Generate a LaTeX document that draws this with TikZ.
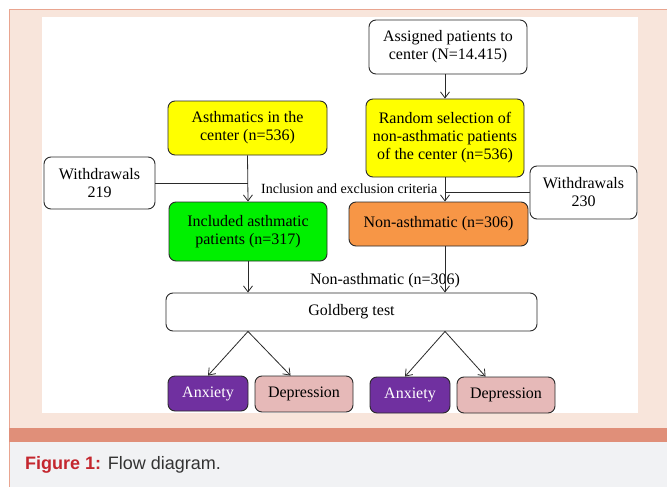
\documentclass[tikz,border=0pt]{standalone}
\usepackage{fontspec}
\setmainfont{Liberation Serif}
\newfontfamily\capfont{Liberation Sans}
\usetikzlibrary{arrows.meta,positioning,calc}
\definecolor{peach}{HTML}{F8E5DB}
\definecolor{peachline}{HTML}{E9A590}
\definecolor{band}{HTML}{E08F79}
\definecolor{capgrey}{HTML}{F1F2F4}
\definecolor{capred}{HTML}{C4262E}
\definecolor{captext}{HTML}{333333}
\definecolor{boxyellow}{HTML}{FFFF00}
\definecolor{boxgreen}{HTML}{00F000}
\definecolor{boxorange}{HTML}{F79646}
\definecolor{boxpurple}{HTML}{7030A0}
\definecolor{boxpink}{HTML}{E6B9B8}
\definecolor{linec}{HTML}{2A2A2A}
\begin{document}
\begin{tikzpicture}[x=1pt,y=-1pt,
  box/.style={draw=linec,line width=0.9pt,rounded corners=7pt,align=center,inner sep=0pt,
    font=\fontsize{16}{18}\selectfont},
  conn/.style={draw=linec,line width=0.8pt},
  arr/.style={conn,-{Straight Barb[length=6pt,width=9pt]}},
  lbl/.style={inner sep=0pt,font=\fontsize{16}{18}\selectfont}
]
\useasboundingbox (0,0) rectangle (667,487);
% background frame
\fill[white] (0,0) rectangle (667,487);
\fill[peach] (9,10) rectangle (667,428);
\draw[peachline,line width=1pt] (9,487) -- (9,10) -- (667,10);
\fill[band] (9,428) rectangle (667,442);
\fill[capgrey] (9.5,442) rectangle (667,487);
\fill[white] (42,17) rectangle (638,413);
% nodes
\node[box,fill=white,minimum width=158pt,minimum height=54pt] (assign) at (448,47) {Assigned patients to\\center (N=14.415)};
\node[box,fill=boxyellow,minimum width=158pt,minimum height=78pt] (random) at (445,138) {Random selection of\\non-asthmatic patients\\of the center (n=536)};
\node[box,fill=white,minimum width=107pt,minimum height=53pt] (wd2) at (583.5,192.5) {Withdrawals\\230};
\node[box,fill=boxorange,minimum width=179pt,minimum height=44pt] (nonas) at (438.5,224) {Non-asthmatic (n=306)};
\node[box,fill=boxyellow,minimum width=159pt,minimum height=54pt] (asth) at (247.5,128) {Asthmatics in the\\center (n=536)};
\node[box,fill=white,minimum width=111pt,minimum height=52pt] (wd1) at (99.5,183) {Withdrawals\\219};
\node[box,fill=boxgreen,minimum width=158pt,minimum height=59pt] (incl) at (248,231.5) {Included asthmatic\\patients (n=317)};
\node[box,fill=white,minimum width=371pt,minimum height=38pt] (gold) at (351.5,312) {Goldberg test};
\node[box,fill=boxpurple,text=white,minimum width=80pt,minimum height=35pt] (anx1) at (208,393.5) {Anxiety};
\node[box,fill=boxpink,minimum width=98pt,minimum height=36pt] (dep1) at (304,394) {Depression};
\node[box,fill=boxpurple,text=white,minimum width=80pt,minimum height=36pt] (anx2) at (410,395) {Anxiety};
\node[box,fill=boxpink,minimum width=98pt,minimum height=36pt] (dep2) at (506,395) {Depression};
% labels
\node[lbl,font=\fontsize{14}{16}\selectfont,anchor=west] (crit) at (261,189) {Inclusion and exclusion criteria};
\node[lbl] (nonlbl) at (385,281) {Non-asthmatic (n=306)};
% connectors
\draw[arr] (assign.south -| random.north) -- (random.north);
\coordinate (j2) at (random.south |- wd2.west);
\draw[conn] (wd2.west) -- (j2);
\draw[arr] (random.south) -- (random.south |- nonas.north);
\coordinate (j1) at (asth.south |- wd1.east);
\draw[conn] (wd1.east) -- (j1);
\draw[arr] (asth.south) -- (incl.north);
\coordinate (gl) at (gold.south -| incl.south);
\coordinate (gr) at (gold.south -| random.south);
\draw[arr] (incl.south) -- (gold.north -| incl.south);
\draw[arr] (nonas.south -| random.south) -- (gold.north -| random.south);
\draw[arr] (gl) -- ($(anx1.north)+(0,0)$);
\draw[arr] (gl) -- ($(dep1.north west)+(36,0)$);
\draw[arr] (gr) -- ($(anx2.north)+(-5,0)$);
\draw[arr] (gr) -- ($(dep2.north west)+(29,0)$);
% caption
\node[anchor=west,inner sep=0pt,font=\capfont\fontsize{18}{21}\selectfont] (cap) at (25,465)
  {\textcolor{capred}{\bfseries Figure 1:} \textcolor{captext}{Flow diagram.}};
\end{tikzpicture}
\end{document}
